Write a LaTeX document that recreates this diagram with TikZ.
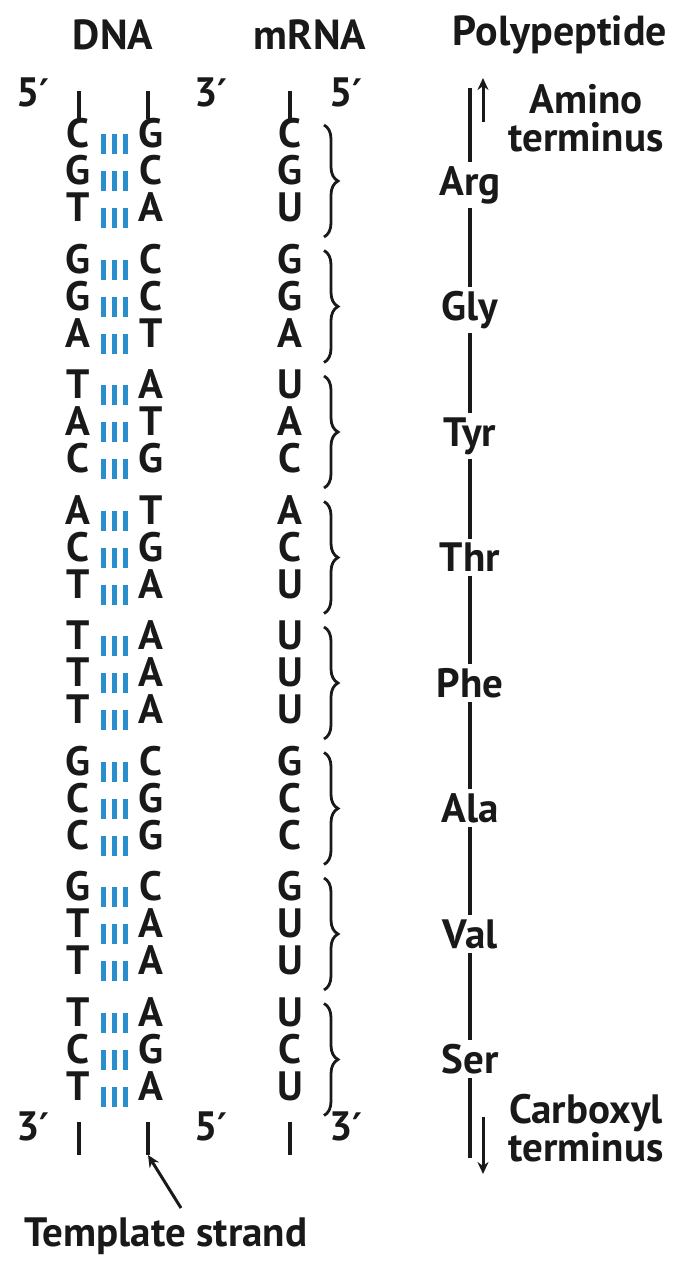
\documentclass[tikz,border=0pt]{standalone}
\usepackage{fontspec}
\setmainfont{PT Sans}
\newfontfamily\primefont{DejaVu Sans}
\usetikzlibrary{decorations.pathreplacing,calc,arrows.meta}
\definecolor{hbond}{RGB}{42,142,204}
\definecolor{ink}{RGB}{25,25,25}
\newcommand{\pr}{{\primefont\bfseries\fontsize{38}{38}\selectfont\kern-1pt ′}}
\begin{document}
\begin{tikzpicture}[x=1pt,y=-1pt,
  every node/.style={text=ink},
  body/.style={font=\fontsize{41}{44}\selectfont\bfseries},
  lt/.style={body,inner sep=0pt,text height=0.7em,text depth=0pt},
  ttl/.style={font=\fontsize{42}{46}\selectfont\bfseries,inner sep=0pt},
  aa/.style={body,anchor=base,inner sep=4pt},
  endlbl/.style={body,inner sep=0pt,text height=0.7em,text depth=0pt},
  term/.style={body,align=center,inner sep=0pt},
  hb/.style={draw=hbond,line width=5pt},
  tickmark/.style={draw=ink,line width=3.8pt},
  brc/.style={draw=ink,line width=2.8pt,decorate,decoration={brace,amplitude=14pt,aspect=0.5}},
  pline/.style={draw=ink,line width=3.8pt},
  parrow/.style={draw=ink,line width=3pt,-{Stealth[length=12pt,width=11pt]}}]
\useasboundingbox (0,0) rectangle (680,1262);

% titles
\node[ttl] (tDNA) at (113,35) {DNA};
\node[ttl] (tRNA) at (310,35) {mRNA};
\node[ttl] (tPol) at (560,35) {Polypeptide};

% base pairs and mRNA
\foreach \l/\r/\m [count=\k from 0] in {C/G/C,G/C/G,T/A/U,G/C/G,G/C/G,A/T/A,T/A/U,A/T/A,C/G/C,A/T/A,C/G/C,T/A/U,T/A/U,T/A/U,T/A/U,G/C/G,C/G/C,C/G/C,G/C/G,T/A/U,T/A/U,T/A/U,C/G/C,T/A/U}{
  \pgfmathsetmacro\yy{144+125.5*int(\k/3)+37*mod(\k,3)}
  \node[lt] (L\k) at (78,\yy) {\l};
  \node[lt] (R\k) at (151,\yy) {\r};
  \node[lt] (M\k) at (290,\yy) {\m};
  \foreach \f in {0.35,0.5,0.65}
    \draw[hb] ($(L\k)!\f!(R\k)+(0,-10)$) -- ($(L\k)!\f!(R\k)+(0,10)$);
}

% braces and amino acids
\foreach \n [count=\i from 0] in {Arg,Gly,Tyr,Thr,Phe,Ala,Val,Ser}{
  \pgfmathtruncatemacro\a{3*\i}
  \pgfmathtruncatemacro\b{3*\i+1}
  \pgfmathtruncatemacro\c{3*\i+2}
  \draw[brc] ($(M\a)+(34,-19)$) -- ($(M\c)+(34,19)$);
  \path (M\b) -- ++(180,14) node[aa] (P\i) {\n};
}

% strand ends
\coordinate (tl1) at (79,91);  \coordinate (tl2) at (79,119);
\coordinate (tr1) at (148,91); \coordinate (tr2) at (148,119);
\coordinate (tm1) at (290,91); \coordinate (tm2) at (290,119);
\draw[tickmark] (tl1) -- (tl2);
\draw[tickmark] (tr1) -- (tr2);
\draw[tickmark] (tm1) -- (tm2);
\coordinate (bl1) at (79,1122);  \coordinate (bl2) at (79,1155);
\coordinate (br1) at (148,1122); \coordinate (br2) at (148,1155);
\coordinate (bm1) at (290,1122); \coordinate (bm2) at (290,1155);
\draw[tickmark] (bl1) -- (bl2);
\draw[tickmark] (br1) -- (br2);
\draw[tickmark] (bm1) -- (bm2);

\node[endlbl] (e5a) at (33,103) {5\pr};
\node[endlbl] (e3a) at (211,103) {3\pr};
\node[endlbl] (e5m) at (346,103) {5\pr};
\node[endlbl] (e3b) at (33,1137) {3\pr};
\node[endlbl] (e5b) at (211,1137) {5\pr};
\node[endlbl] (e3m) at (346,1137) {3\pr};

% polypeptide chain
\coordinate (ptop) at (470,88);
\coordinate (pbot) at (470,1158);
\draw[pline] (ptop) -- (P0);
\foreach \i [evaluate=\i as \j using int(\i+1)] in {0,...,6}
  \draw[pline] (P\i) -- (P\j);
\draw[pline] (P7) -- (pbot);

\coordinate (aup1) at (483,122);
\coordinate (aup2) at (483,78);
\draw[parrow] (aup1) -- (aup2);
\coordinate (adn1) at (483,1117);
\coordinate (adn2) at (483,1174);
\draw[parrow] (adn1) -- (adn2);

\node[term] (amino) at (586,118) {Amino\\[-6pt]terminus};
\node[term] (carbox) at (586,1128) {Carboxyl\\[-6pt]terminus};

% template strand
\node[body,inner sep=0pt] (tmpl) at (166,1236) {Template strand};
\coordinate (ttail) at (181,1208);
\draw[parrow] (ttail) -- (br2);
\end{tikzpicture}
\end{document}
